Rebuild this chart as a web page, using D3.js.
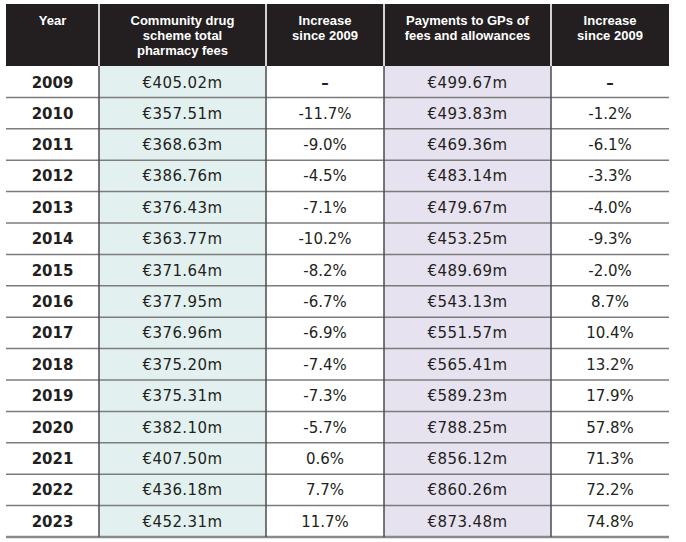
<!DOCTYPE html>
<html>
<head>
<meta charset="utf-8">
<script src="https://cdn.jsdelivr.net/npm/d3@7"></script>
<style>
  body { margin: 0; background: #fff; }
</style>
</head>
<body>
<svg id="chart" width="686" height="542"></svg>
<script>
// table data
const years = ["2009", "2010", "2011", "2012", "2013", "2014", "2015", "2016", "2017", "2018", "2019", "2020", "2021", "2022", "2023"];
const pharmacyFees = ["€405.02m", "€357.51m", "€368.63m", "€386.76m", "€376.43m", "€363.77m", "€371.64m", "€377.95m", "€376.96m", "€375.20m", "€375.31m", "€382.10m", "€407.50m", "€436.18m", "€452.31m"];
const pharmacyChange = ["–", "-11.7%", "-9.0%", "-4.5%", "-7.1%", "-10.2%", "-8.2%", "-6.7%", "-6.9%", "-7.4%", "-7.3%", "-5.7%", "0.6%", "7.7%", "11.7%"];
const gpPayments = ["€499.67m", "€493.83m", "€469.36m", "€483.14m", "€479.67m", "€453.25m", "€489.69m", "€543.13m", "€551.57m", "€565.41m", "€589.23m", "€788.25m", "€856.12m", "€860.26m", "€873.48m"];
const gpChange = ["–", "-1.2%", "-6.1%", "-3.3%", "-4.0%", "-9.3%", "-2.0%", "8.7%", "10.4%", "13.2%", "17.9%", "57.8%", "71.3%", "72.2%", "74.8%"];
const headers = [
    ["Year"],
    ["Community drug", "scheme total", "pharmacy fees"],
    ["Increase", "since 2009"],
    ["Payments to GPs of", "fees and allowances"],
    ["Increase", "since 2009"]
];

const svg = d3.select("#chart");

const table = { left: 6, right: 669, top: 4, headBottom: 66, bottom: 537 };
// relative column widths
const colWidths = [93, 167, 118, 167, 118];
const colEdges = [0];
colWidths.forEach(w => colEdges.push(colEdges[colEdges.length - 1] + w));
const x = d3.scaleLinear()
    .domain([0, colEdges[colEdges.length - 1]])
    .range([table.left, table.right]);

const y = d3.scaleBand()
    .domain(years)
    .range([table.headBottom, table.bottom]);

const columns = [years, pharmacyFees, pharmacyChange, gpPayments, gpChange];
const colFill = ["#fff", "#e2f1ef", "#fff", "#e7e2ef", "#fff"];

//Column backgrounds
svg.append("g").selectAll("rect").data(columns)
    .enter().append("rect")
    .attr("x", (d, i) => x(colEdges[i]))
    .attr("y", table.headBottom)
    .attr("width", (d, i) => x(colEdges[i + 1]) - x(colEdges[i]))
    .attr("height", table.bottom - table.headBottom)
    .attr("fill", (d, i) => colFill[i]);

//Header cells
const head = svg.append("g");
head.selectAll("rect").data(headers)
    .enter().append("rect")
    .attr("x", (d, i) => x(colEdges[i]) + (i > 0 ? 0.8 : 0))
    .attr("y", table.top)
    .attr("width", (d, i) => x(colEdges[i + 1]) - x(colEdges[i]) - (i > 0 ? 0.8 : 0) - (i < headers.length - 1 ? 0.8 : 0))
    .attr("height", table.headBottom - table.top)
    .attr("fill", "#231f20");

head.selectAll("text").data(headers)
    .enter().append("text")
    .attr("text-anchor", "middle")
    .attr("font-family", "'Liberation Sans', Arial, sans-serif")
    .attr("font-weight", "bold")
    .attr("font-size", 13)
    .attr("fill", "#fff")
    .each(function (d, i) {
        const cx = (x(colEdges[i]) + x(colEdges[i + 1])) / 2;
        d3.select(this).selectAll("tspan").data(d)
            .enter().append("tspan")
            .attr("x", cx)
            .attr("y", (line, j) => 24.5 + j * 15.2)
            .text(line => line);
    });

//Row lines
svg.append("g").selectAll("line").data(years)
    .enter().append("line")
    .attr("x1", table.left)
    .attr("x2", table.right)
    .attr("y1", d => y(d) + y.bandwidth())
    .attr("y2", d => y(d) + y.bandwidth())
    .attr("stroke", (d, i) => i === years.length - 1 ? "#8a8a8a" : "#7c7c7c")
    .attr("stroke-width", (d, i) => i === years.length - 1 ? 2.5 : 1.5);

//Column lines
svg.append("g").selectAll("line").data(colEdges.slice(1, -1))
    .enter().append("line")
    .attr("x1", d => x(d))
    .attr("x2", d => x(d))
    .attr("y1", table.headBottom)
    .attr("y2", table.bottom)
    .attr("stroke", "#4a4a52")
    .attr("stroke-width", 1.5);

//Cell texts
columns.forEach((col, i) => {
    const cx = (x(colEdges[i]) + x(colEdges[i + 1])) / 2;
    svg.append("g").selectAll("text").data(col)
        .enter().append("text")
        .attr("x", cx)
        .attr("y", (d, j) => y(years[j]) + y.bandwidth() / 2 + (j === 0 ? 6.5 : 5.5))
        .attr("text-anchor", "middle")
        .attr("font-family", "'DejaVu Sans', sans-serif")
        .attr("font-weight", d => (i === 0 || d === "–") ? "bold" : "normal")
        .attr("font-size", 15)
        .attr("letter-spacing", (i === 1 || i === 3) ? 0.4 : 0)
        .attr("fill", "#231f20")
        .text(d => d);
});
</script>
</body>
</html>
